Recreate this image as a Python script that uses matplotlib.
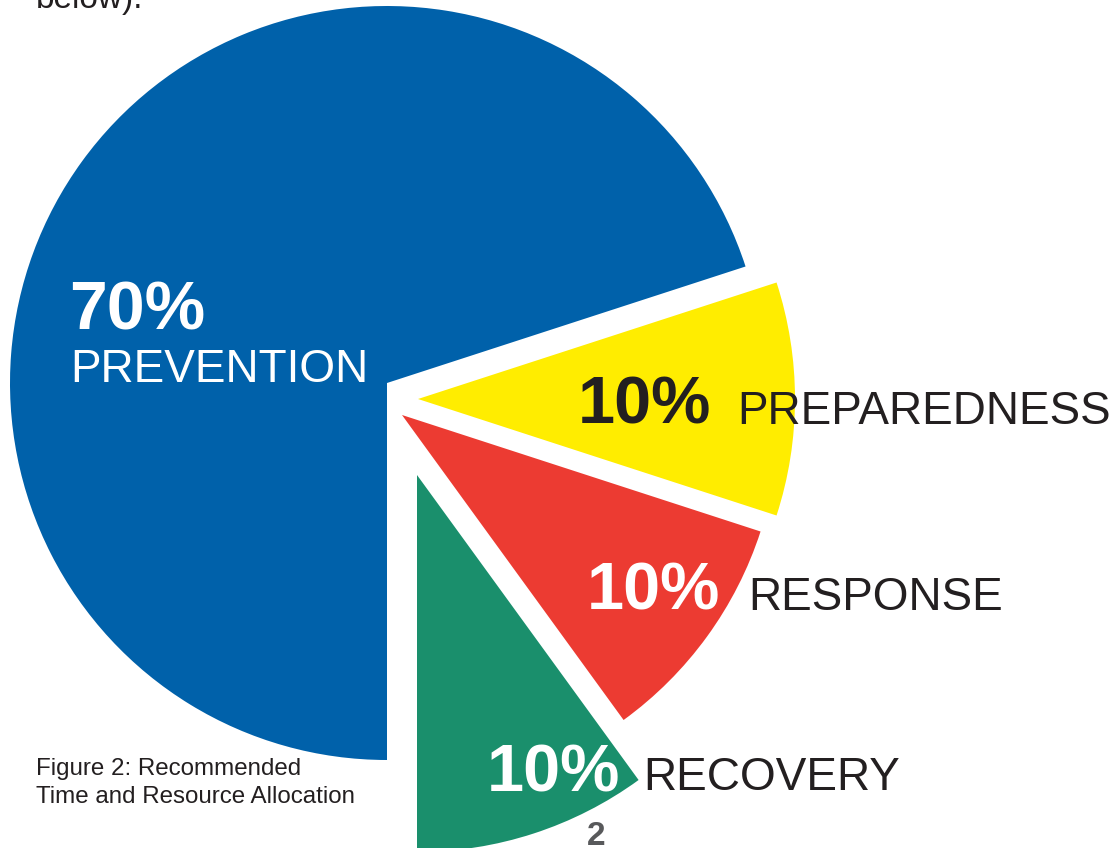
import matplotlib.pyplot as plt

# data
labels = ['PREVENTION', 'RECOVERY', 'RESPONSE', 'PREPAREDNESS']
shares = [70, 10, 10, 10]
colors = ['#0061AA', '#1A8F6C', '#EC3B32', '#FFED00']
pct_colors = ['white', 'white', 'white', '#231F20']

W, H = 1119, 848
R_PX = 377.0          # pie radius in pixels
CX, CY = 387, 383     # pie centre in pixels

plt.rcParams['font.family'] = ['Liberation Sans', 'DejaVu Sans']

fig = plt.figure(figsize=(W / 100, H / 100), dpi=100)
ax = fig.add_axes([0, 0, 1, 1])

wedges, _ = ax.pie(shares, colors=colors, startangle=18, counterclock=True,
                   radius=1, wedgeprops=dict(linewidth=0))

# slices pulled away from the centre (pixel offsets, hand placed like the original artwork)
shift_px = {'RECOVERY': (30, 92), 'RESPONSE': (15, 32), 'PREPAREDNESS': (31, 16)}
for w, lab in zip(wedges, labels):
    if lab in shift_px:
        dx, dy = shift_px[lab]
        w.set_center((dx / R_PX, -dy / R_PX))

ax.set_xlim(-CX / R_PX, (W - CX) / R_PX)
ax.set_ylim(-(H - CY) / R_PX, CY / R_PX)
ax.set_aspect('auto')
ax.axis('off')


def px(x, y):
    return x / W, 1 - y / H


dark = '#231F20'

# percentages and names
fig.text(*px(69, 330), '70%', fontsize=49, fontweight='bold', color='white', va='baseline')
fig.text(*px(70, 382), 'PREVENTION', fontsize=33, color='white', va='baseline')

fig.text(*px(578, 424), '10%', fontsize=48, fontweight='bold', color=pct_colors[3], va='baseline')
fig.text(*px(737, 424), 'PREPAREDNESS', fontsize=33, color=dark, va='baseline')

fig.text(*px(587, 610), '10%', fontsize=48, fontweight='bold', color=pct_colors[2], va='baseline')
fig.text(*px(748, 610), 'RESPONSE', fontsize=33, color=dark, va='baseline')

fig.text(*px(487, 791), '10%', fontsize=48, fontweight='bold', color=pct_colors[1], va='baseline')
fig.text(*px(643, 790), 'RECOVERY', fontsize=33, color=dark, va='baseline')

# surrounding page text
fig.text(*px(36, 8), 'below).', fontsize=24, color=dark, va='baseline')
fig.text(*px(36, 775), 'Figure 2: Recommended', fontsize=17.4, color=dark, va='baseline')
fig.text(*px(36, 803), 'Time and Resource Allocation', fontsize=17.4, color=dark, va='baseline')
fig.text(*px(587, 845), '2', fontsize=24, fontweight='bold', color='#58595B', va='baseline')

plt.savefig('out.png', dpi=100)
